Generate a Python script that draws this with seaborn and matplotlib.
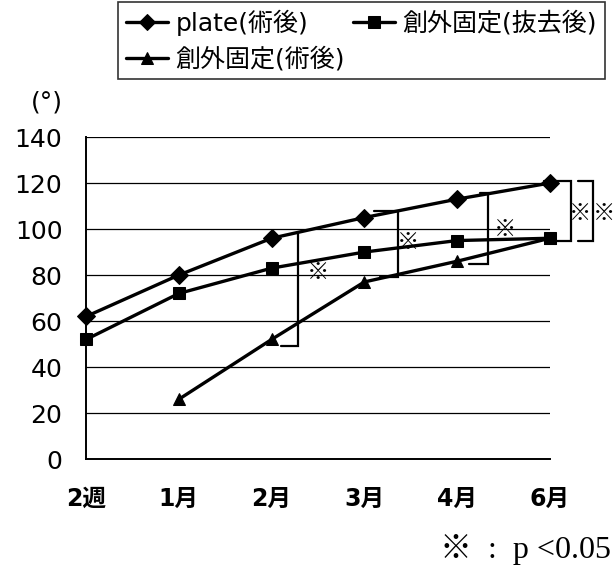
import matplotlib
matplotlib.use("Agg")
import matplotlib.pyplot as plt
import numpy as np
import pandas as pd
import seaborn as sns

# ---------------------------------------------------------------------------
# Data
# ---------------------------------------------------------------------------
periods = ["2週", "1月", "2月", "3月", "4月", "6月"]
plate_post = [62, 80, 96, 105, 113, 120]
exfix_removed = [52, 72, 83, 90, 95, 96]
exfix_post = [np.nan, 26, 52, 77, 86, 96]
series_names = ["plate(術後)", "創外固定(術後)", "創外固定(抜去後)"]
series_markers = {"plate(術後)": "D", "創外固定(術後)": "^", "創外固定(抜去後)": "s"}

# significance brackets: x, top y, bottom y, end of top tick, end of bottom tick
bracket_x = [2.29, 3.36, 4.33, 5.23, 5.47]
bracket_top = [98.5, 108, 115.5, 121, 121]
bracket_bottom = [49, 79, 85, 95, 95]
bracket_tick_top = [2.29, 3.1, 4.25, 4.94, 5.3]
bracket_tick_bottom = [2.1, 3.17, 4.13, 5.06, 5.3]
star_x = [2.5, 3.47, 4.52, 5.33, 5.58]
star_y = [81, 94, 100, 107, 107]

FONT = ["DejaVu Sans", "Noto Sans CJK JP"]

# ---------------------------------------------------------------------------
# Plot
# ---------------------------------------------------------------------------
sns.set_style("white")
plt.rcParams["font.family"] = FONT
plt.rcParams["text.color"] = "black"
plt.rcParams["xtick.color"] = "black"
plt.rcParams["ytick.color"] = "black"

df = pd.DataFrame({
    "pos": list(range(len(periods))) * 3,
    "value": plate_post + exfix_post + exfix_removed,
    "series": ([series_names[0]] * len(periods) + [series_names[1]] * len(periods)
               + [series_names[2]] * len(periods)),
})

fig = plt.figure(figsize=(6.15, 5.71), dpi=100)
ax = fig.add_axes([0.14, 0.196, 0.754, 0.564])

sns.lineplot(
    data=df, x="pos", y="value", hue="series", style="series",
    hue_order=series_names, style_order=series_names,
    palette=["black"] * 3, markers=series_markers, dashes=False,
    linewidth=2.4, markersize=9, markeredgecolor="black",
    ax=ax, clip_on=False, zorder=4,
)

ax.set_xlim(0, 5)
ax.set_ylim(0, 140)
ax.set_yticks(range(0, 141, 20))
ax.set_xticks(range(len(periods)))
ax.set_xticklabels(periods)
ax.set_xlabel("")
ax.set_ylabel("")
ax.yaxis.grid(True, color="black", linewidth=0.9)
ax.set_axisbelow(True)
for s in ["top", "right"]:
    ax.spines[s].set_visible(False)
for s in ["left", "bottom"]:
    ax.spines[s].set_color("black")
    ax.spines[s].set_linewidth(1.4)
ax.tick_params(axis="y", length=0, pad=17, labelsize=18, labelcolor="black")
ax.tick_params(axis="x", direction="in", length=6, width=1, color="black",
               pad=20, labelsize=17, labelcolor="black")
for lab in ax.get_xticklabels():
    lab.set_fontweight("bold")

# significance brackets
for bx, yt, yb, tt, tb in zip(bracket_x, bracket_top, bracket_bottom,
                              bracket_tick_top, bracket_tick_bottom):
    ax.plot([tt, bx, bx, tb], [yt, yt, yb, yb], color="black", lw=1.6,
            clip_on=False, solid_joinstyle="miter")
for sx, sy in zip(star_x, star_y):
    ax.text(sx, sy, "※", ha="center", va="center", fontsize=16,
            fontweight="bold", family=["Noto Sans CJK JP"], clip_on=False)

ax.text(-0.6, 155, "(°)", ha="left", va="center", fontsize=18)

handles, labels = ax.get_legend_handles_labels()
for h in handles:
    h.set_markersize(8)
leg = fig.legend(
    handles, labels, ncol=2, loc="upper left", bbox_to_anchor=(0.192, 0.997),
    frameon=True, fancybox=False, edgecolor="black", fontsize=18,
    handlelength=1.7, handletextpad=0.3, columnspacing=0.3,
    borderpad=0.3, labelspacing=0.45, borderaxespad=0,
)
leg.get_frame().set_linewidth(1.2)
for t in leg.get_texts():
    t.set_color("black")
if ax.get_legend():
    ax.get_legend().remove()

fig.text(0.993, 0.038, "※  :  p <0.05", ha="right", va="center", fontsize=23,
         family=["Liberation Serif", "Noto Sans CJK JP"])

fig.savefig("out.png", dpi=100)
